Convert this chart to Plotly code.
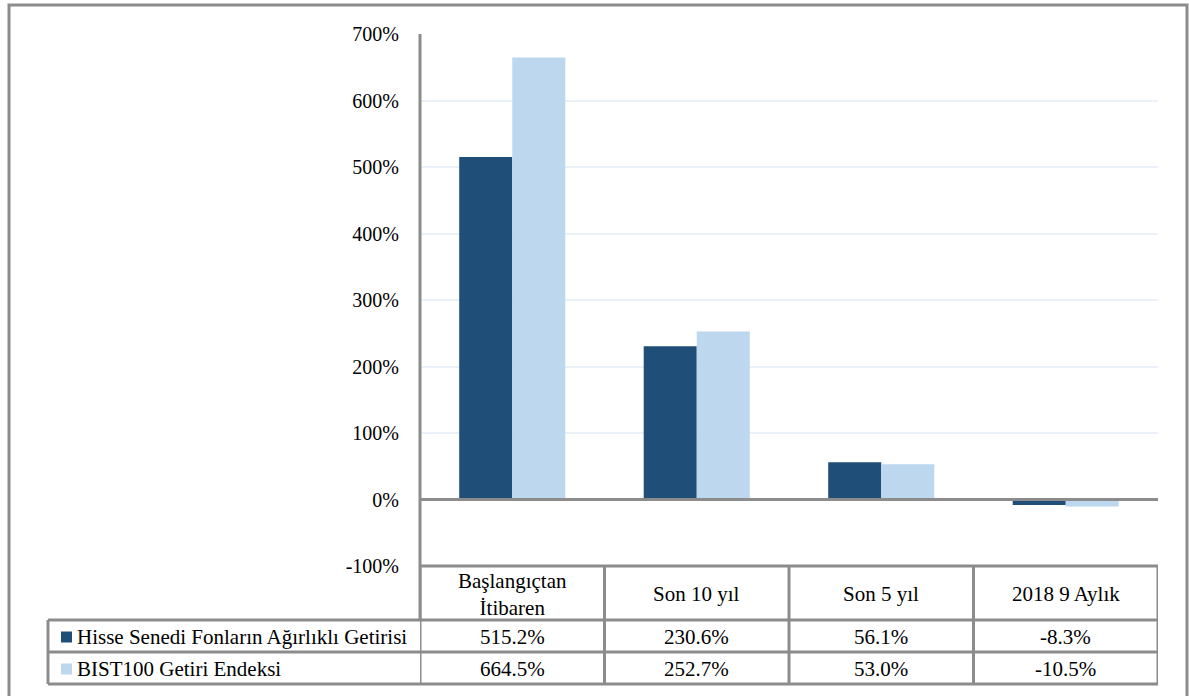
import plotly.graph_objects as go

categories = ["Başlangıçtan<br>İtibaren", "Son 10 yıl", "Son 5 yıl", "2018 9 Aylık"]
series_names = ["Hisse Senedi Fonların Ağırlıklı Getirisi", "BIST100 Getiri Endeksi"]
fund_returns = [515.2, 230.6, 56.1, -8.3]
bist_returns = [664.5, 252.7, 53.0, -10.5]
series_values = [fund_returns, bist_returns]
colors = ["#1F4E79", "#BDD7EE"]
tick_vals = [-100, 0, 100, 200, 300, 400, 500, 600, 700]
tick_text = ["-100%", "0%", "100%", "200%", "300%", "400%", "500%", "600%", "700%"]

W, H = 1189, 696
L, R, T, B = 420, 1158, 34, 566
FONT = "Times New Roman, Liberation Serif, DejaVu Serif, serif"
FS = 20
FS_T = 21
GRAY = "#8C8C8C"

def px(x):
    return (x - L) / (R - L)

def py(y):
    return (B - y) / (B - T)

fig = go.Figure()
xs = list(range(len(categories)))
for name, vals, col in zip(series_names, series_values, colors):
    fig.add_trace(go.Bar(x=xs, y=vals, name=name, marker=dict(color=col, line=dict(width=0)),
                         hoverinfo="y"))

shapes = []
annotations = []
# outer border
shapes.append(dict(type="rect", xref="paper", yref="paper", x0=px(9), x1=px(1187), y0=py(5), y1=py(700),
                   line=dict(color=GRAY, width=3), fillcolor="rgba(0,0,0,0)", layer="below"))
# zero line
shapes.append(dict(type="line", xref="paper", yref="y", x0=0, x1=1, y0=0, y1=0,
                   line=dict(color=GRAY, width=3)))
# y axis line extended through header
shapes.append(dict(type="line", xref="paper", yref="paper", x0=0, x1=0, y0=py(T), y1=py(620),
                   line=dict(color=GRAY, width=3)))

row_tops = [566, 620, 652, 684]
shapes.append(dict(type="line", xref="paper", yref="paper", x0=0, x1=1, y0=py(566), y1=py(566),
                   line=dict(color=GRAY, width=3)))
for yy in row_tops[1:]:
    shapes.append(dict(type="line", xref="paper", yref="paper", x0=px(48), x1=1, y0=py(yy), y1=py(yy),
                       line=dict(color=GRAY, width=3)))
for k in range(len(categories) + 1):
    shapes.append(dict(type="line", xref="x", yref="paper", x0=k - 0.5, x1=k - 0.5, y0=py(566), y1=py(684),
                       line=dict(color=GRAY, width=3)))
shapes.append(dict(type="line", xref="paper", yref="paper", x0=px(48), x1=px(48), y0=py(620), y1=py(684),
                   line=dict(color=GRAY, width=3)))

for i, c in enumerate(categories):
    annotations.append(dict(x=i, y=py(594), xref="x", yref="paper", text=c, showarrow=False,
                            font=dict(family=FONT, size=FS_T, color="black"), xanchor="center", yanchor="middle"))
row_centers = [637, 669]
for r, (name, vals, col) in enumerate(zip(series_names, series_values, colors)):
    yc = row_centers[r]
    shapes.append(dict(type="rect", xref="paper", yref="paper", x0=px(61), x1=px(72), y0=py(yc - 5.5), y1=py(yc + 5.5),
                       fillcolor=col, line=dict(width=0)))
    annotations.append(dict(x=px(75), y=py(yc), xref="paper", yref="paper", text=name, showarrow=False,
                            font=dict(family=FONT, size=FS_T, color="black"), xanchor="left", yanchor="middle"))
    for i, v in enumerate(vals):
        annotations.append(dict(x=i, y=py(yc), xref="x", yref="paper", text=f"{v:.1f}%", showarrow=False,
                                font=dict(family=FONT, size=FS_T, color="black"), xanchor="center", yanchor="middle"))

fig.update_layout(
    width=W, height=H, autosize=False,
    margin=dict(l=L, r=W - R, t=T, b=H - B, pad=0),
    paper_bgcolor="white", plot_bgcolor="white",
    barmode="group", bargap=0.425, bargroupgap=0,
    showlegend=False,
    font=dict(family=FONT, size=FS, color="black"),
    xaxis=dict(range=[-0.5, len(categories) - 0.5], showticklabels=False, showgrid=False, zeroline=False,
               showline=False, ticks=""),
    yaxis=dict(range=[-100, 700], tickvals=tick_vals, ticktext=tick_text, showgrid=True,
               gridcolor="#EAF1F9", gridwidth=2, zeroline=False, showline=False, ticks="",
               tickfont=dict(family=FONT, size=FS, color="black"), ticklabelstandoff=20),
    shapes=shapes, annotations=annotations,
)
fig.write_html("out.html")
